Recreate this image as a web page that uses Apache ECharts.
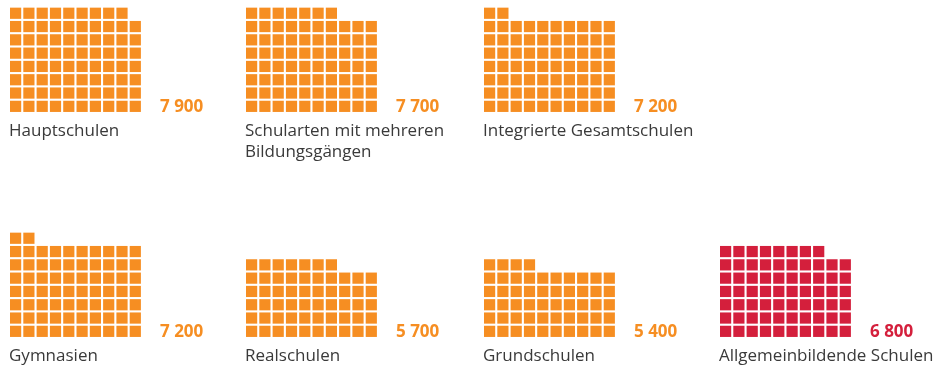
<!DOCTYPE html>
<html>
<head>
<meta charset="utf-8">
<script src="https://cdn.jsdelivr.net/npm/echarts@6/dist/echarts.min.js"></script>
<style>
  html, body { margin: 0; padding: 0; background: #ffffff; }
  #chart { width: 939px; height: 365px; }
</style>
</head>
<body>
<div id="chart"></div>
<script>
// School types and their counts (one square = 100)
const categories = [
  'Hauptschulen',
  'Schularten mit mehreren\nBildungsgängen',
  'Integrierte Gesamtschulen',
  'Gymnasien',
  'Realschulen',
  'Grundschulen',
  'Allgemeinbildende Schulen'
];
const values = [7900, 7700, 7200, 7200, 5700, 5400, 6800];
const highlighted = [false, false, false, false, false, false, true];
const unitPerSquare = 100;
const squaresPerRow = 10;
const maxRows = 8;

// Panel placement
const panelLeft = [10, 246, 484, 10, 246, 484, 720];
const panelBottom = [113, 113, 113, 338, 338, 338, 338];
const pitch = 13.3;
const squareSize = 11.2;

const ORANGE = '#f68e22';
const RED = '#d41f3c';
const TEXT = '#3a3a3a';
const FONT = '"Open Sans", "Noto Sans", sans-serif';

function formatValue(v) {
  return String(v).replace(/\B(?=(\d{3})+(?!\d))/g, ' ');
}

// Cells are filled row by row from the bottom, left to right
function cells(v) {
  const n = Math.round(v / unitPerSquare);
  const out = [];
  for (let i = 0; i < n; i++) {
    out.push([(i % squaresPerRow) + 0.5, Math.floor(i / squaresPerRow) + 0.5]);
  }
  return out;
}

const grids = [], xAxes = [], yAxes = [], series = [], graphics = [];
values.forEach((v, k) => {
  const left = panelLeft[k] - (pitch - squareSize) / 2;
  const bottom = panelBottom[k];
  const color = highlighted[k] ? RED : ORANGE;
  grids.push({
    left: left, top: bottom - pitch * maxRows,
    width: pitch * squaresPerRow, height: pitch * maxRows
  });
  xAxes.push({ type: 'value', gridIndex: k, min: 0, max: squaresPerRow, show: false });
  yAxes.push({ type: 'value', gridIndex: k, min: 0, max: maxRows, show: false });
  series.push({
    type: 'scatter', xAxisIndex: k, yAxisIndex: k,
    symbol: 'rect', symbolSize: squareSize,
    itemStyle: { color: color, opacity: 1 },
    silent: true, animation: false,
    data: cells(v)
  });
  graphics.push({
    type: 'text', left: panelLeft[k] + 150, top: bottom - 14,
    style: {
      text: formatValue(v), fill: color,
      font: 'bold 17px ' + FONT
    }
  });
  graphics.push({
    type: 'text', left: panelLeft[k] - 1, top: bottom + 8,
    style: {
      text: categories[k], fill: TEXT,
      font: '17px ' + FONT, lineHeight: 21
    }
  });
});

const chart = echarts.init(document.getElementById('chart'), null, { renderer: 'canvas' });
chart.setOption({
  animation: false,
  grid: grids,
  xAxis: xAxes,
  yAxis: yAxes,
  series: series,
  graphic: graphics
});
</script>
</body>
</html>
